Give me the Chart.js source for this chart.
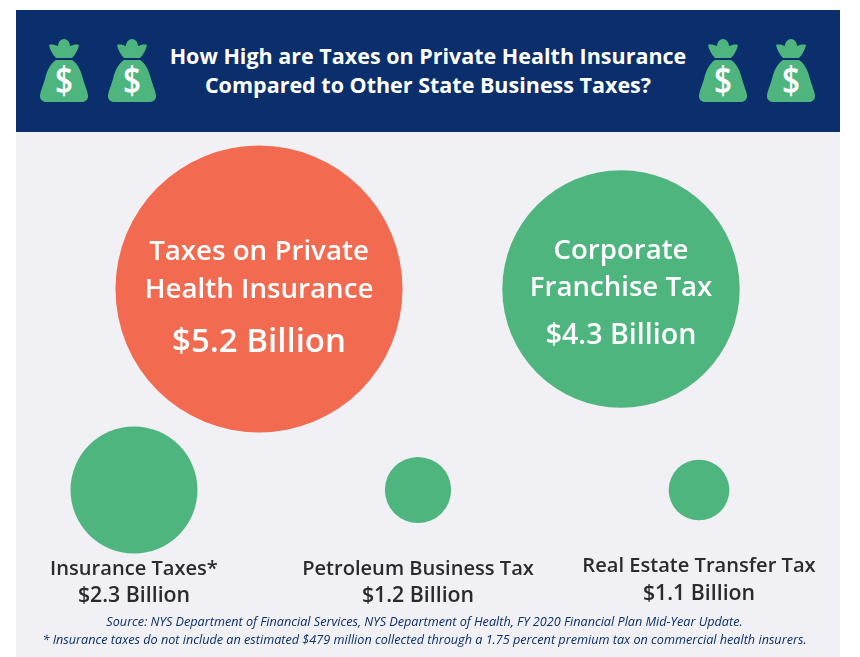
<!DOCTYPE html>
<html><head><meta charset="utf-8">
<style>
html,body{margin:0;padding:0;background:#fff;width:860px;height:657px;overflow:hidden;font-family:"Open Sans",sans-serif}
#head{position:absolute;left:16px;top:10px;width:824px;height:122px;background:#0a2f6c}
#panel{position:absolute;left:16px;top:132px;width:824px;height:525px;background:#f0f0f5}
#title{position:absolute;left:0;width:856px;top:41px;text-align:center;color:#fff;font-weight:700;font-size:21.5px;line-height:29px}
#note{position:absolute;left:0;width:849px;top:612px;text-align:center;color:#0a2f6c;font-style:italic;font-size:12.65px;line-height:18px}
canvas{position:absolute;left:0;top:0}
svg.bag{position:absolute;top:38px;width:50px;height:65px}
</style></head><body>
<div id="head"></div><div id="panel"></div>
<svg width="0" height="0" style="position:absolute"><defs><g id="bagshape">
<path fill="#4fb57f" d="M17 20 C14 17 11 12 10 7 C13 6 16 7 19 8 C19 4 22 1 25 1 C28 1 31 4 31 8 C34 7 37 6 40 7 C39 12 36 17 33 20 Z"/>
<path fill="#4fb57f" d="M17 22 L33 22 C38 25 42 32 44 41 C46 48 49 54 49 58 C49 62 46 64 42 64 L8 64 C4 64 1 62 1 58 C1 54 4 48 6 41 C8 32 12 25 17 22 Z"/>
<text x="25" y="56" text-anchor="middle" fill="#fff" font-family="Open Sans" font-weight="600" font-size="38" textLength="18" lengthAdjust="spacingAndGlyphs">$</text>
</g></defs></svg>
<svg class="bag" style="left:39px" viewBox="0 0 50 65"><use href="#bagshape"/></svg>
<svg class="bag" style="left:107px" viewBox="0 0 50 65"><use href="#bagshape"/></svg>
<svg class="bag" style="left:698px" viewBox="0 0 50 65"><use href="#bagshape"/></svg>
<svg class="bag" style="left:766px" viewBox="0 0 50 65"><use href="#bagshape"/></svg>
<div id="title">How High are Taxes on Private Health Insurance<br>Compared to Other State Business Taxes?</div>
<canvas id="c" width="860" height="657"></canvas>
<div id="note">Source: NYS Department of Financial Services, NYS Department of Health, FY 2020 Financial Plan Mid-Year Update.<br>* Insurance taxes do not include an estimated $479 million collected through a 1.75 percent premium tax on commercial health insurers.</div>
<script src="https://cdn.jsdelivr.net/npm/chart.js@4"></script>
<script>
const categories = [["Taxes on Private","Health Insurance"],["Corporate","Franchise Tax"],["Insurance Taxes*"],["Petroleum Business Tax"],["Real Estate Transfer Tax"]];
const billions = [5.2, 4.3, 2.3, 1.2, 1.1];
const valueLabels = ["$5.2 Billion","$4.3 Billion","$2.3 Billion","$1.2 Billion","$1.1 Billion"];
const colors = ["#f26a50","#4fb57f","#4fb57f","#4fb57f","#4fb57f"];
const columnPos = [259, 621, 134, 418, 699];
const rowPos = [289, 289, 490, 490, 490];
const RADIUS_PER_BILLION = 27.6;

const textPlugin = { id:'bubbleText', afterDatasetsDraw(ch){
  const {ctx} = ch, m = ch.getDatasetMeta(0);
  ctx.save(); ctx.textAlign='center'; ctx.textBaseline='alphabetic';
  const inside = [
    {nameY:[260,298], valY:352, nf:27.7, vf:33},
    {nameY:[259,296], valY:344, nf:27.6, vf:28.6}
  ];
  const below = [[575,602],[575,602],[572,600]];
  m.data.forEach((el,i)=>{
    const x = el.x;
    if(i<2){
      const s = inside[i];
      ctx.fillStyle='#fff';
      ctx.font=`600 ${s.nf}px "Open Sans"`;
      categories[i].forEach((t,j)=>ctx.fillText(t,x,s.nameY[j]));
      ctx.font=`600 ${s.vf}px "Open Sans"`;
      ctx.fillText(valueLabels[i],x,s.valY);
    } else {
      const b = below[i-2];
      ctx.fillStyle='#2b2b2b';
      ctx.font='600 20.1px "Open Sans"';
      ctx.fillText(categories[i][0],x,b[0]);
      ctx.font='600 21.3px "Open Sans"';
      ctx.fillText(valueLabels[i],x,b[1]);
    }
  });
  ctx.restore();
}};

new Chart(document.getElementById('c'),{
  type:'bubble',
  data:{datasets:[{
    label:'Tax revenue ($ billions)',
    data:billions.map((v,i)=>({x:columnPos[i],y:rowPos[i],r:v*RADIUS_PER_BILLION})),
    backgroundColor:colors,borderWidth:0,hoverBorderWidth:0
  }]},
  options:{
    responsive:false,animation:false,
    layout:{padding:0,autoPadding:false},
    scales:{
      x:{type:'linear',min:0,max:860,display:false},
      y:{type:'linear',min:0,max:657,reverse:true,display:false}
    },
    plugins:{legend:{display:false},tooltip:{enabled:false},title:{display:false}}
  },
  plugins:[textPlugin]
});
</script>
</body></html>
